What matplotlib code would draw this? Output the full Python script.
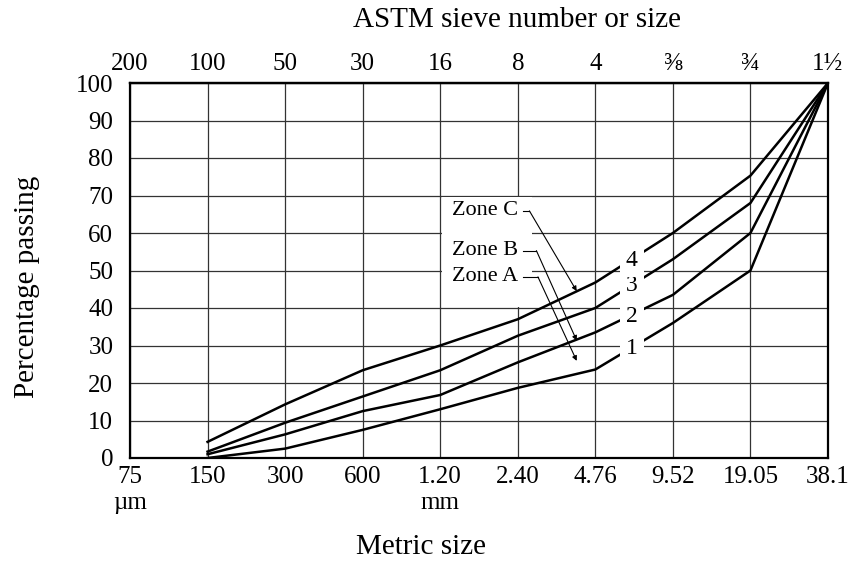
import numpy as np
import matplotlib
matplotlib.use('Agg')
import matplotlib.pyplot as plt
from matplotlib.patches import Rectangle

plt.rcParams['font.family'] = ['Liberation Serif', 'DejaVu Serif']

# sieve sizes (bottom axis) and ASTM numbers (top axis)
metric_labels = ['75\nµm', '150', '300', '600', '1.20\nmm', '2.40', '4.76', '9.52', '19.05', '38.1']
astm_labels = ['200', '100', '50', '30', '16', '8', '4', '⅜', '¾', '1½']
pct_ticks = list(range(0, 101, 10))

# percentage passing for the four grading curves (nan = no point at 75 µm)
curve1 = [np.nan, 0, 2.5, 7.5, 13, 18.7, 23.6, 36, 50, 100]
curve2 = [np.nan, 1, 6.3, 12.5, 16.8, 25.5, 33.5, 43.5, 60, 100]
curve3 = [np.nan, 1.7, 9.4, 16.4, 23.4, 32.6, 40, 53, 68, 100]
curve4 = [np.nan, 4.3, 14.3, 23.4, 30, 37, 46.8, 60, 75.3, 100]
curves = [curve1, curve2, curve3, curve4]
curve_names = ['1', '2', '3', '4']
curve_label_y = [29.1, 37.8, 45.9, 52.7]

zone_names = ['Zone A', 'Zone B', 'Zone C']
zone_text_y = [48.3, 55.3, 65.9]
zone_corner_x = [5.26, 5.24, 5.15]
zone_tip_y = [25.9, 31.3, 44.5]

x = np.arange(len(metric_labels))

fig = plt.figure(figsize=(8.61, 5.67), dpi=100)
ax = fig.add_axes([130 / 861, 1 - 458 / 567, 698 / 861, 375 / 567])

ax.set_xlim(0, len(x) - 1)
ax.set_ylim(0, 100)
ax.set_xticks(x)
ax.set_xticklabels(metric_labels, fontsize=18)
ax.set_yticks(pct_ticks)
ax.set_yticklabels([str(v) for v in pct_ticks], fontsize=18)
ax.tick_params(axis='x', length=0, pad=6)
ax.tick_params(axis='y', length=0, pad=12)

top = ax.secondary_xaxis('top')
top.set_xticks(x)
top.set_xticklabels(astm_labels, fontsize=18)
top.tick_params(length=0, pad=6)
top.spines['top'].set_linewidth(1.6)

ax.grid(True, color='#333333', linewidth=0.9, zorder=0.5)
ax.set_axisbelow(True)
for s in ax.spines.values():
    s.set_linewidth(1.6)

# blank area behind the zone labels (between the 40 and 70 grid lines)
ax.add_patch(Rectangle((4.02, 40.4), 1.16, 29.2, facecolor='white', edgecolor='none', zorder=1))

for c in curves:
    ax.plot(x, c, color='black', linewidth=1.8, zorder=2)

for name, yv in zip(curve_names, curve_label_y):
    ax.text(6.47, yv, name, fontsize=17, ha='center', va='center', zorder=3,
            bbox=dict(boxstyle='square,pad=0.25', facecolor='white', edgecolor='none'))

for name, ty, cx, tipy in zip(zone_names, zone_text_y, zone_corner_x, zone_tip_y):
    ax.text(5.0, ty, name, fontsize=16, ha='right', va='center', zorder=3)
    ax.plot([5.07, cx], [ty, ty], color='black', linewidth=0.8, zorder=3)
    ax.annotate('', xy=(5.76, tipy), xytext=(cx, ty), zorder=3,
                arrowprops=dict(arrowstyle='-|>', color='black', lw=0.8,
                                mutation_scale=7, shrinkA=0, shrinkB=0))

ax.text(0.417, -0.237, 'Metric size', transform=ax.transAxes, fontsize=21,
        ha='center', va='center')
ax.text(0.554, 1.168, 'ASTM sieve number or size', transform=ax.transAxes,
        fontsize=21, ha='center', va='center')
ax.text(-0.148, 0.456, 'Percentage passing', transform=ax.transAxes, fontsize=21,
        ha='center', va='center', rotation=90)

fig.savefig('out.png', dpi=100)
